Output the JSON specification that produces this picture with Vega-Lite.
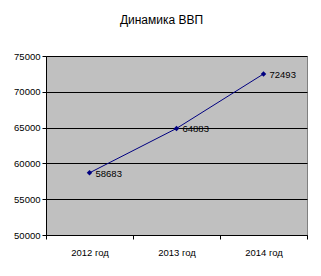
{
  "$schema": "https://vega.github.io/schema/vega-lite/v6.json",
  "autosize": "none",
  "width": 261,
  "height": 179,
  "padding": {"left": 46, "top": 56, "right": 14, "bottom": 41},
  "background": "white",
  "title": {
    "text": "Динамика ВВП",
    "font": "Liberation Sans",
    "fontSize": 12,
    "fontWeight": "normal",
    "color": "black",
    "anchor": "middle",
    "dx": -15,
    "offset": 24
  },
  "config": {
    "view": {"fill": "#c0c0c0", "stroke": "#808080", "strokeWidth": 1},
    "axis": {
      "labelFont": "Liberation Sans",
      "labelFontSize": 9.5,
      "labelColor": "black",
      "domainColor": "black",
      "tickColor": "black",
      "tickSize": 4,
      "title": null
    }
  },
  "data": {
    "values": [
      {"year": "2012 год", "gdp": 58683},
      {"year": "2013 год", "gdp": 64883},
      {"year": "2014 год", "gdp": 72493}
    ]
  },
  "encoding": {
    "x": {
      "field": "year",
      "type": "ordinal",
      "scale": {"paddingInner": 0, "paddingOuter": 0},
      "axis": {"labelAngle": 0, "tickBand": "extent", "grid": false, "labelPadding": 8, "domainColor": "black"}
    },
    "y": {
      "field": "gdp",
      "type": "quantitative",
      "scale": {"domain": [50000, 75000], "nice": false, "zero": false},
      "axis": {"values": [50000, 55000, 60000, 65000, 70000, 75000], "grid": true, "gridColor": "black", "gridOpacity": 1, "labelPadding": 2, "format": "d"}
    }
  },
  "layer": [
    {"mark": {"type": "line", "color": "#000080", "strokeWidth": 1}},
    {"mark": {"type": "point", "shape": "diamond", "filled": true, "color": "#000080", "opacity": 1, "size": 30}},
    {
      "mark": {"type": "text", "align": "left", "baseline": "middle", "dx": 6, "dy": 1, "font": "Liberation Sans", "fontSize": 9.5, "color": "black"},
      "encoding": {"text": {"field": "gdp", "type": "quantitative", "format": "d"}}
    }
  ]
}
